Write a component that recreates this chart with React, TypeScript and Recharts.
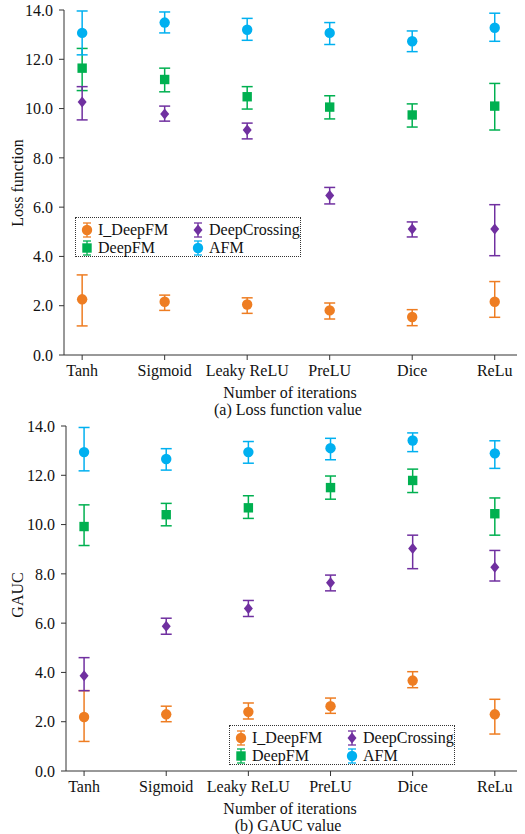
import React from 'react';
import { ScatterChart, Scatter, XAxis, YAxis, ErrorBar } from 'recharts';

const categories = ['Tanh', 'Sigmoid', 'Leaky ReLU', 'PreLU', 'Dice', 'ReLu'];
const yTicks = [0, 2, 4, 6, 8, 10, 12, 14];

// (a) loss function value
const lossIDeepFM = [2.26, 2.16, 2.05, 1.81, 1.54, 2.16];
const lossIDeepFMLow = [1.18, 1.81, 1.69, 1.46, 1.19, 1.53];
const lossIDeepFMHigh = [3.25, 2.43, 2.32, 2.11, 1.84, 2.98];
const lossDeepFM = [11.64, 11.18, 10.48, 10.06, 9.74, 10.1];
const lossDeepFMLow = [10.73, 10.68, 9.98, 9.58, 9.25, 9.13];
const lossDeepFMHigh = [12.44, 11.64, 10.89, 10.52, 10.19, 11.02];
const lossDeepCrossing = [10.27, 9.78, 9.13, 6.47, 5.11, 5.11];
const lossDeepCrossingLow = [9.54, 9.49, 8.77, 6.13, 4.79, 4.03];
const lossDeepCrossingHigh = [10.89, 10.1, 9.41, 6.8, 5.4, 6.1];
const lossAFM = [13.07, 13.49, 13.2, 13.07, 12.73, 13.28];
const lossAFMLow = [12.18, 13.07, 12.77, 12.6, 12.31, 12.73];
const lossAFMHigh = [13.96, 13.92, 13.66, 13.49, 13.15, 13.87];

// (b) GAUC value
const gaucIDeepFM = [2.19, 2.3, 2.4, 2.63, 3.67, 2.3];
const gaucIDeepFMLow = [1.2, 2.0, 2.11, 2.34, 3.38, 1.5];
const gaucIDeepFMHigh = [3.26, 2.63, 2.76, 2.96, 4.03, 2.91];
const gaucDeepFM = [9.92, 10.4, 10.68, 11.5, 11.79, 10.44];
const gaucDeepFMLow = [9.15, 9.95, 10.25, 11.03, 11.3, 9.57];
const gaucDeepFMHigh = [10.8, 10.86, 11.17, 11.97, 12.25, 11.08];
const gaucDeepCrossing = [3.87, 5.87, 6.59, 7.64, 9.03, 8.27];
const gaucDeepCrossingLow = [3.26, 5.55, 6.27, 7.31, 8.21, 7.71];
const gaucDeepCrossingHigh = [4.6, 6.2, 6.92, 7.95, 9.57, 8.95];
const gaucAFM = [12.94, 12.66, 12.94, 13.1, 13.41, 12.89];
const gaucAFMLow = [12.18, 12.21, 12.49, 12.63, 12.96, 12.28];
const gaucAFMHigh = [13.94, 13.08, 13.37, 13.5, 13.72, 13.4];

const ORANGE = '#EE7D22';
const GREEN = '#00B050';
const PURPLE = '#7030A0';
const BLUE = '#00B0F0';
const FONT = "'Liberation Serif', 'Times New Roman', Times, serif";

type Kind = 'circle' | 'square' | 'diamond';

const rows = (mean: number[], low: number[], high: number[]) =>
  categories.map((_, i) => ({ x: i, y: mean[i], err: [mean[i] - low[i], high[i] - mean[i]] }));

function marker(kind: Kind, color: string, cx: number, cy: number) {
  if (kind === 'circle') return <circle cx={cx} cy={cy} r={5.2} fill={color} />;
  if (kind === 'square') return <rect x={cx - 4.7} y={cy - 4.7} width={9.4} height={9.4} fill={color} />;
  return <polygon points={`${cx},${cy - 5.5} ${cx + 4.5},${cy} ${cx},${cy + 5.5} ${cx - 4.5},${cy}`} fill={color} />;
}

const shapeOf = (kind: Kind, color: string) => (props: any) => marker(kind, color, props.cx, props.cy);

interface SeriesDef {
  name: string;
  kind: Kind;
  color: string;
  data: { x: number; y: number; err: number[] }[];
}

const textStyle = { fontFamily: FONT, fontSize: 16, color: '#111' };

function Panel({ top, height, marginTop, axisW, series, yLabel, caption, labelY, legend }: {
  top: number; height: number; marginTop: number; axisW: number; series: SeriesDef[];
  yLabel: string; caption: string; labelY: number; legend: { left: number; top: number };
}) {
  return (
    <div style={{ position: 'absolute', left: 0, top, width: 525, height: height + 60 }}>
      <ScatterChart width={525} height={height} margin={{ top: marginTop, right: 8, bottom: 0, left: 0 }} style={{ fontFamily: FONT }}>
        <XAxis
          type="number"
          dataKey="x"
          domain={[-0.22, 5.27]}
          ticks={[0, 1, 2, 3, 4, 5]}
          tickFormatter={(v) => categories[v] ?? ''}
          allowDataOverflow
          height={60}
          tickSize={5}
          tickMargin={5}
          stroke="#333"
          tick={{ fill: '#111', fontSize: 16, fontFamily: FONT }}
        />
        <YAxis
          type="number"
          dataKey="y"
          domain={[0, 14]}
          ticks={yTicks}
          tickFormatter={(v) => v.toFixed(1)}
          width={axisW}
          tickSize={5}
          tickMargin={6}
          stroke="#333"
          tick={{ fill: '#111', fontSize: 16, fontFamily: FONT }}
        />
        {series.map((s) => (
          <Scatter key={s.name} name={s.name} data={s.data} shape={shapeOf(s.kind, s.color)} isAnimationActive={false}>
            <ErrorBar dataKey="err" direction="y" width={5.5} stroke={s.color} strokeWidth={1.5} isAnimationActive={false} />
          </Scatter>
        ))}
      </ScatterChart>
      <div style={{
        ...textStyle, position: 'absolute', left: 18, top: labelY,
        transform: 'translate(-50%, -50%) rotate(-90deg)', whiteSpace: 'nowrap',
      }}>{yLabel}</div>
      <div style={{ ...textStyle, position: 'absolute', left: 0, width: 580, top: height - 31, textAlign: 'center' }}>
        Number of iterations
      </div>
      <div style={{ ...textStyle, position: 'absolute', left: 0, width: 576, top: height - 14, textAlign: 'center' }}>
        {caption}
      </div>
      <Legend left={legend.left} top={legend.top - top} series={series} />
    </div>
  );
}

function Legend({ left, top, series }: { left: number; top: number; series: SeriesDef[] }) {
  const pos = [
    { mx: 11, y: 12 },
    { mx: 11, y: 29.5 },
    { mx: 122, y: 12 },
    { mx: 122, y: 29.5 },
  ];
  return (
    <div style={{
      ...textStyle, position: 'absolute', left, top, width: 226, height: 40, boxSizing: 'border-box',
      border: '1px dotted #333', background: '#fff',
    }}>
      {series.map((s, i) => (
        <div key={s.name} style={{ position: 'absolute', left: pos[i].mx - 8, top: pos[i].y - 10, height: 20, display: 'flex', alignItems: 'center' }}>
          <svg width={16} height={20}>
            <line x1={8} y1={3} x2={8} y2={17} stroke={s.color} strokeWidth={1.3} />
            <line x1={4} y1={3} x2={12} y2={3} stroke={s.color} strokeWidth={1.3} />
            <line x1={4} y1={17} x2={12} y2={17} stroke={s.color} strokeWidth={1.3} />
            {marker(s.kind, s.color, 8, 10)}
          </svg>
          <span style={{ marginLeft: 3, lineHeight: '20px', whiteSpace: 'nowrap' }}>{s.name}</span>
        </div>
      ))}
    </div>
  );
}

export default function App() {
  const lossSeries: SeriesDef[] = [
    { name: 'I_DeepFM', kind: 'circle', color: ORANGE, data: rows(lossIDeepFM, lossIDeepFMLow, lossIDeepFMHigh) },
    { name: 'DeepFM', kind: 'square', color: GREEN, data: rows(lossDeepFM, lossDeepFMLow, lossDeepFMHigh) },
    { name: 'DeepCrossing', kind: 'diamond', color: PURPLE, data: rows(lossDeepCrossing, lossDeepCrossingLow, lossDeepCrossingHigh) },
    { name: 'AFM', kind: 'circle', color: BLUE, data: rows(lossAFM, lossAFMLow, lossAFMHigh) },
  ];
  const gaucSeries: SeriesDef[] = [
    { name: 'I_DeepFM', kind: 'circle', color: ORANGE, data: rows(gaucIDeepFM, gaucIDeepFMLow, gaucIDeepFMHigh) },
    { name: 'DeepFM', kind: 'square', color: GREEN, data: rows(gaucDeepFM, gaucDeepFMLow, gaucDeepFMHigh) },
    { name: 'DeepCrossing', kind: 'diamond', color: PURPLE, data: rows(gaucDeepCrossing, gaucDeepCrossingLow, gaucDeepCrossingHigh) },
    { name: 'AFM', kind: 'circle', color: BLUE, data: rows(gaucAFM, gaucAFMLow, gaucAFMHigh) },
  ];

  return (
    <div style={{ position: 'fixed', left: 0, top: 0, width: 525, height: 834, background: '#fff', overflow: 'hidden' }}>
      <Panel
        top={0} height={415} marginTop={10} axisW={64} series={lossSeries}
        yLabel="Loss function" caption="(a) Loss function value" labelY={183}
        legend={{ left: 75, top: 217 }}
      />
      <Panel
        top={415} height={416} marginTop={11} axisW={66} series={gaucSeries}
        yLabel="GAUC" caption="(b) GAUC value" labelY={180}
        legend={{ left: 229, top: 725 }}
      />
    </div>
  );
}
